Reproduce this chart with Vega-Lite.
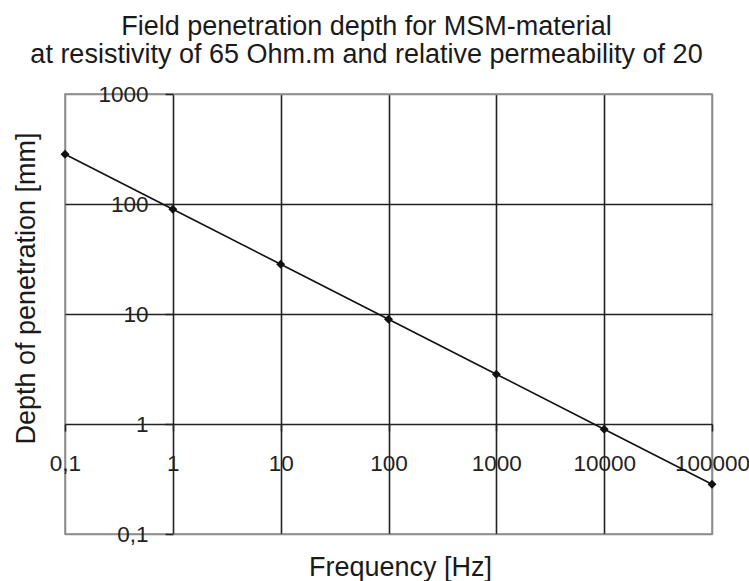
{
  "$schema": "https://vega.github.io/schema/vega-lite/v6.json",
  "width": 647,
  "height": 440,
  "autosize": {"type": "none"},
  "padding": {"left": 65, "top": 94, "right": 37, "bottom": 47},
  "background": "white",
  "config": {
    "font": "Liberation Sans",
    "view": {"stroke": "#8c8c8c", "strokeWidth": 1.5}
  },
  "title": {
    "text": [
      "Field penetration depth for MSM-material",
      "at resistivity of 65 Ohm.m and relative permeability of 20"
    ],
    "font": "Liberation Sans",
    "fontSize": 27,
    "fontWeight": "normal",
    "color": "#1a1a1a",
    "lineHeight": 28,
    "frame": "group",
    "anchor": "middle",
    "dx": -22,
    "offset": 14
  },
  "data": {
    "values": [
      {"frequency": 0.1, "depth": 283.4},
      {"frequency": 1, "depth": 89.6},
      {"frequency": 10, "depth": 28.34},
      {"frequency": 100, "depth": 8.96},
      {"frequency": 1000, "depth": 2.834},
      {"frequency": 10000, "depth": 0.896},
      {"frequency": 100000, "depth": 0.2834}
    ]
  },
  "encoding": {
    "x": {
      "field": "frequency",
      "type": "quantitative",
      "title": "Frequency [Hz]",
      "scale": {"type": "log", "domain": [0.1, 100000], "nice": false},
      "axis": {
        "values": [0.1, 1, 10, 100, 1000, 10000, 100000],
        "offset": -110,
        "domain": false,
        "grid": true,
        "gridColor": {
          "condition": {"test": "datum.value == 0.1 || datum.value == 100000", "value": "#8c8c8c"},
          "value": "#222222"
        },
        "gridWidth": 1.6,
        "tickSize": 7,
        "tickColor": "#222222",
        "tickWidth": 1.5,
        "labelExpr": "replace(toString(datum.value), '.', ',')",
        "labelFont": "Liberation Sans",
        "labelFontSize": 22.5,
        "labelColor": "#222222",
        "labelBaseline": "alphabetic",
        "labelPadding": 39,
        "labelFlush": false,
        "labelOverlap": false,
        "titleFont": "Liberation Sans",
        "titleFontSize": 27,
        "titleFontWeight": "normal",
        "titleColor": "#1a1a1a",
        "titleX": 335,
        "titleY": 151,
        "titleAlign": "center",
        "titleBaseline": "alphabetic"
      }
    },
    "y": {
      "field": "depth",
      "type": "quantitative",
      "title": "Depth of penetration [mm]",
      "scale": {"type": "log", "domain": [0.1, 1000], "nice": false},
      "axis": {
        "values": [0.1, 1, 10, 100, 1000],
        "offset": -108,
        "domain": false,
        "grid": true,
        "gridColor": {
          "condition": {"test": "datum.value == 0.1 || datum.value == 1000", "value": "#8c8c8c"},
          "value": "#222222"
        },
        "gridWidth": 1.6,
        "tickSize": 8,
        "tickColor": "#222222",
        "tickWidth": 1.5,
        "labelExpr": "replace(toString(datum.value), '.', ',')",
        "labelFont": "Liberation Sans",
        "labelFontSize": 22.5,
        "labelColor": "#222222",
        "labelPadding": 17,
        "labelFlush": false,
        "labelOverlap": false,
        "titleFont": "Liberation Sans",
        "titleFontSize": 27,
        "titleFontWeight": "normal",
        "titleColor": "#1a1a1a",
        "titleAngle": 270,
        "titleX": -139,
        "titleY": 194,
        "titleAlign": "center",
        "titleBaseline": "alphabetic"
      }
    }
  },
  "layer": [
    {"mark": {"type": "line", "color": "#111111", "strokeWidth": 1.6}},
    {"mark": {"type": "point", "shape": "diamond", "filled": true, "size": 80, "color": "#111111", "opacity": 1}}
  ]
}
